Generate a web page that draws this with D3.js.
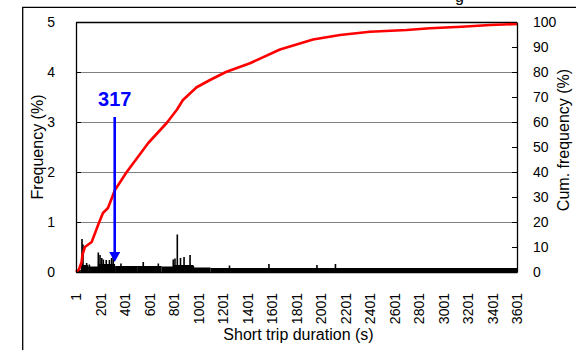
<!DOCTYPE html>
<html>
<head>
<meta charset="utf-8">
<script src="https://cdn.jsdelivr.net/npm/d3@7/dist/d3.min.js"></script>
<style>
  body { margin: 0; background: #fff; }
  svg { display: block; font-family: "Liberation Sans", Arial, sans-serif; }
</style>
</head>
<body>
<svg id="chart" width="576" height="350"></svg>
<script>
// Axis tick values
const durationTicks = [1, 201, 401, 601, 801, 1001, 1201, 1401, 1601, 1801, 2001, 2201, 2401, 2601, 2801, 3001, 3201, 3401, 3601];
const freqTicks = [0, 1, 2, 3, 4, 5];
const cumTicks = [0, 10, 20, 30, 40, 50, 60, 70, 80, 90, 100];

// Frequency (%) of 1-s duration bins: dense low level per duration range [from, to, %]
const freqFloor = [
  [1, 40, 0.04], [40, 100, 0.14], [100, 180, 0.11], [180, 320, 0.16],
  [320, 500, 0.12], [500, 700, 0.12], [700, 800, 0.11], [800, 960, 0.14],
  [960, 1100, 0.09], [1100, 3601, 0.08]
];
// Individual taller bins [duration s, %]
const freqPeaks = [
  [50, 0.66], [58, 0.55], [88, 0.18], [110, 0.15], [183, 0.39], [197, 0.34],
  [211, 0.28], [224, 0.25], [248, 0.24], [274, 0.24], [292, 0.28], [305, 0.30],
  [368, 0.17], [550, 0.20], [673, 0.17], [795, 0.25], [809, 0.27], [828, 0.75],
  [854, 0.28], [883, 0.30], [932, 0.34], [959, 0.12], [1254, 0.13], [1576, 0.16],
  [1968, 0.14], [2119, 0.16]
];

// Cumulative frequency (%) against duration (s)
const cumDuration = [1, 25, 47, 54, 74, 129, 183, 221, 262, 319, 415, 591, 741, 823, 874, 986, 1095, 1225, 1421, 1666, 1936, 2156, 2401, 2700, 2890, 3150, 3380, 3601];
const cumPercent  = [0, 1, 4, 7, 10, 12, 19, 23.6, 25.6, 32.8, 40, 51.6, 59.6, 64.8, 68.8, 73.9, 76.8, 80, 83.5, 89, 93, 94.8, 96.1, 96.8, 97.5, 98.1, 98.8, 99.2];

// Marked duration
const markedDuration = 317;

const svg = d3.select("#chart");
const plot = { left: 76, right: 517, top: 22, bottom: 272 };

const x = d3.scaleLinear().domain([1, 3601]).range([plot.left, plot.right]);
const yFreq = d3.scaleLinear().domain([0, 5]).range([plot.bottom, plot.top]);
const yCum = d3.scaleLinear().domain([0, 100]).range([plot.bottom, plot.top]);

// Outer frame; the title line sits above it and is clipped
svg.append("text").attr("x", 455).attr("y", 1.5).attr("font-size", 16).attr("fill", "#000").text("g");
svg.append("path").attr("d", "M22.7,350V7.3H576").attr("fill", "none").attr("stroke", "#000").attr("stroke-width", 1.3);

// Gridlines
svg.append("g").selectAll("line").data(freqTicks.filter(d => d > 0 && d < 5)).join("line")
  .attr("x1", plot.left).attr("x2", plot.right)
  .attr("y1", d => yFreq(d) + 0.5).attr("y2", d => yFreq(d) + 0.5)
  .attr("stroke", "#808080").attr("stroke-width", 1);

// Top border of plot
svg.append("line").attr("x1", plot.left).attr("x2", plot.right)
  .attr("y1", plot.top + 0.5).attr("y2", plot.top + 0.5)
  .attr("stroke", "#000").attr("stroke-width", 1.3);

// Frequency bars
const bars = svg.append("g").attr("fill", "#000");
bars.selectAll("rect.floor").data(freqFloor).join("rect").attr("class", "floor")
  .attr("x", d => x(d[0])).attr("width", d => x(d[1]) - x(d[0]))
  .attr("y", d => yFreq(d[2])).attr("height", d => yFreq(0) - yFreq(d[2]));
bars.selectAll("rect.peak").data(freqPeaks).join("rect").attr("class", "peak")
  .attr("x", d => x(d[0]) - 0.8).attr("width", 1.6)
  .attr("y", d => yFreq(d[1])).attr("height", d => yFreq(0) - yFreq(d[1]));

// Cumulative frequency line
const cumData = cumDuration.map((d, i) => [d, cumPercent[i]]);
svg.append("path").datum(cumData)
  .attr("d", d3.line().x(d => x(d[0])).y(d => yCum(d[1])))
  .attr("fill", "none").attr("stroke", "#ff0000").attr("stroke-width", 2.6)
  .attr("stroke-linejoin", "round");

// Axes
const tickFont = g => g.selectAll("text").attr("font-size", 14).attr("fill", "#000").attr("font-family", "Liberation Sans, Arial, sans-serif");
const axisStyle = g => { g.select(".domain").attr("stroke", "#000").attr("stroke-width", 1.3); g.selectAll(".tick line").attr("stroke", "#000"); };

svg.append("g").attr("transform", `translate(${plot.left},0)`)
  .call(d3.axisLeft(yFreq).tickValues(freqTicks).tickFormat(d3.format("d")).tickSizeInner(-5).tickSizeOuter(0).tickPadding(21))
  .call(axisStyle).call(tickFont);

svg.append("g").attr("transform", `translate(${plot.right},0)`)
  .call(d3.axisRight(yCum).tickValues(cumTicks).tickFormat(d3.format("d")).tickSizeInner(-5).tickSizeOuter(0).tickPadding(16))
  .call(axisStyle).call(tickFont);

const xAxis = svg.append("g").attr("transform", `translate(0,${plot.bottom})`)
  .call(d3.axisBottom(x).tickValues(durationTicks).tickSize(0).tickSizeOuter(0).tickFormat(d3.format("d")))
  .call(axisStyle).call(tickFont);
xAxis.selectAll(".tick text")
  .attr("transform", "translate(0,21) rotate(-90)")
  .attr("text-anchor", "end").attr("x", 0).attr("y", 0).attr("dy", "0.35em");

// Axis titles
svg.append("text").attr("x", (plot.left + plot.right) / 2 + 2).attr("y", 340)
  .attr("text-anchor", "middle").attr("font-size", 16).text("Short trip duration (s)");
svg.append("text").attr("transform", "translate(43,147) rotate(-90)")
  .attr("text-anchor", "middle").attr("font-size", 16).text("Frequency (%)");
svg.append("text").attr("transform", "translate(569,140) rotate(-90)")
  .attr("text-anchor", "middle").attr("font-size", 16).text("Cum. frequency (%)");

// Arrow marking the duration
const ax = x(markedDuration);
const arrowTop = yFreq(3.1), arrowTip = yFreq(0.2);
svg.append("line").attr("x1", ax).attr("x2", ax).attr("y1", arrowTop).attr("y2", arrowTip - 9)
  .attr("stroke", "#0000ff").attr("stroke-width", 2.6);
svg.append("path")
  .attr("d", `M${ax - 5.5},${arrowTip - 10}L${ax + 5.5},${arrowTip - 10}L${ax},${arrowTip}Z`)
  .attr("fill", "#0000ff");
svg.append("text").attr("x", ax).attr("y", arrowTop - 11)
  .attr("text-anchor", "middle").attr("font-size", 20).attr("font-weight", "bold")
  .attr("fill", "#0000ff").text(markedDuration);
</script>
</body>
</html>
